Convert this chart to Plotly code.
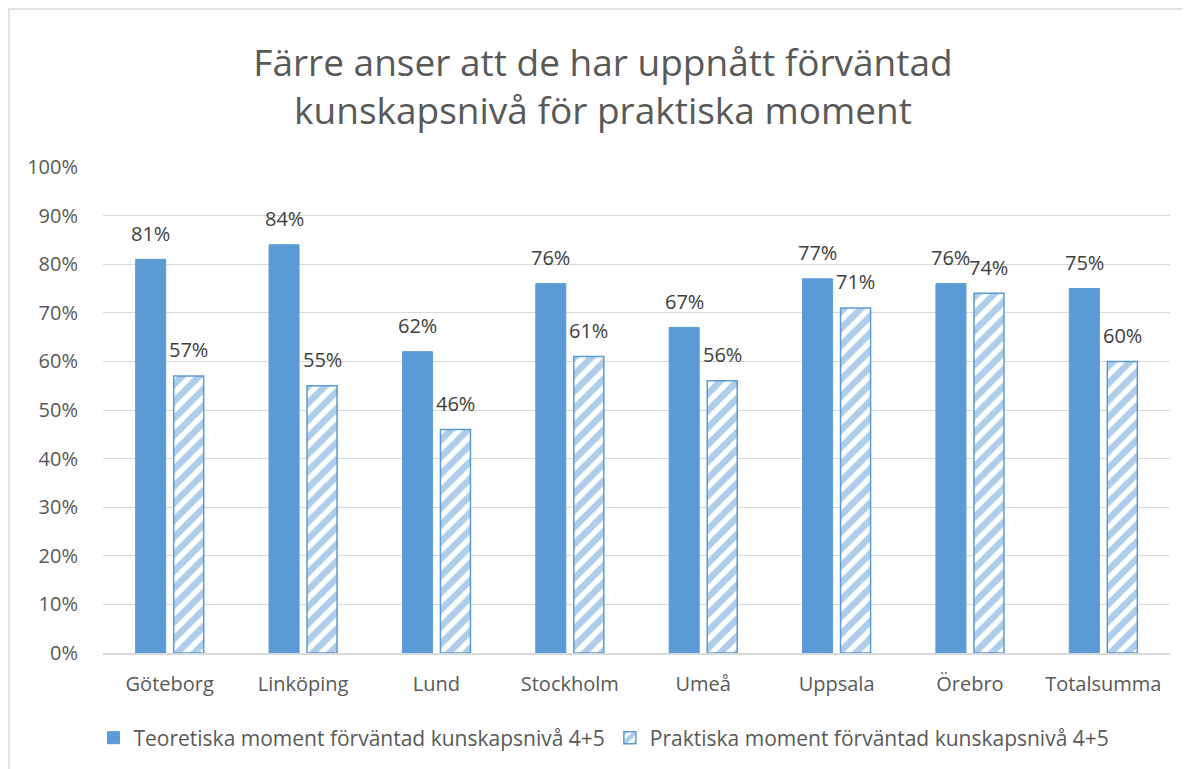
import plotly.graph_objects as go

categories = ["Göteborg", "Linköping", "Lund", "Stockholm", "Umeå", "Uppsala", "Örebro", "Totalsumma"]
teoretiska = [0.81, 0.84, 0.62, 0.76, 0.67, 0.77, 0.76, 0.75]
praktiska = [0.57, 0.55, 0.46, 0.61, 0.56, 0.71, 0.74, 0.60]
name_teor = "Teoretiska moment förväntad kunskapsnivå 4+5"
name_prak = "Praktiska moment förväntad kunskapsnivå 4+5"
title_text = "Färre anser att de har uppnått förväntad<br>kunskapsnivå för praktiska moment"

BLUE = "#5B9BD5"
FONT = "Open Sans"
LABEL_FONT = dict(family=FONT, size=20, color="#404040")

fig = go.Figure()
fig.add_trace(go.Bar(
    x=categories, y=teoretiska, name=name_teor,
    marker=dict(color=BLUE, line=dict(color=BLUE, width=1)),
))
fig.add_trace(go.Bar(
    x=categories, y=praktiska, name=name_prak,
    marker=dict(color="white", line=dict(color=BLUE, width=1.5),
                pattern=dict(shape="/", fgcolor=BLUE, bgcolor="white", size=12, solidity=0.55)),
))

# data labels, placed via the axes from the data lists
annotations = []
for series, xshift in ((teoretiska, -19), (praktiska, 19)):
    for cat, val in zip(categories, series):
        annotations.append(dict(
            x=cat, y=val, xref="x", yref="y", text=f"{round(val * 100)}%",
            showarrow=False, xanchor="center", yanchor="middle",
            xshift=xshift, yshift=26, font=LABEL_FONT,
        ))

fig.update_layout(
    width=1190, height=769,
    paper_bgcolor="white", plot_bgcolor="white",
    margin=dict(l=95, r=28, t=159, b=124),
    barmode="group", bargap=0.43, bargroupgap=0.21,
    font=dict(family=FONT, color="#595959"),
    title=dict(text=title_text, x=0.5, xanchor="center", y=0.9116, yanchor="middle",
               font=dict(family=FONT, size=37, color="#595959")),
    legend=dict(orientation="h", x=0.4695, xanchor="center", y=-0.175, yanchor="middle",
                font=dict(family=FONT, size=21, color="#595959"), itemwidth=30,
                traceorder="normal"),
    showlegend=True,
    annotations=annotations,
    shapes=[dict(type="rect", xref="paper", yref="paper",
                 x0=-0.0881, x1=1.04, y0=-0.29, y1=1.325,
                 line=dict(color="#d9d9d9", width=1.5), fillcolor="rgba(0,0,0,0)", layer="below")],
)
fig.update_yaxes(range=[0, 1.0], dtick=0.1, tickformat=".0%", showgrid=True,
                 gridcolor="#d9d9d9", gridwidth=1, zeroline=False, showline=False,
                 ticks="outside", ticklen=20, tickcolor="rgba(0,0,0,0)",
                 tickfont=dict(family=FONT, size=20, color="#595959"))
fig.update_xaxes(showline=True, linecolor="#d9d9d9", linewidth=1.5,
                 ticks="outside", ticklen=12, tickcolor="rgba(0,0,0,0)",
                 tickfont=dict(family=FONT, size=20, color="#595959"))

fig.write_html("out.html")
